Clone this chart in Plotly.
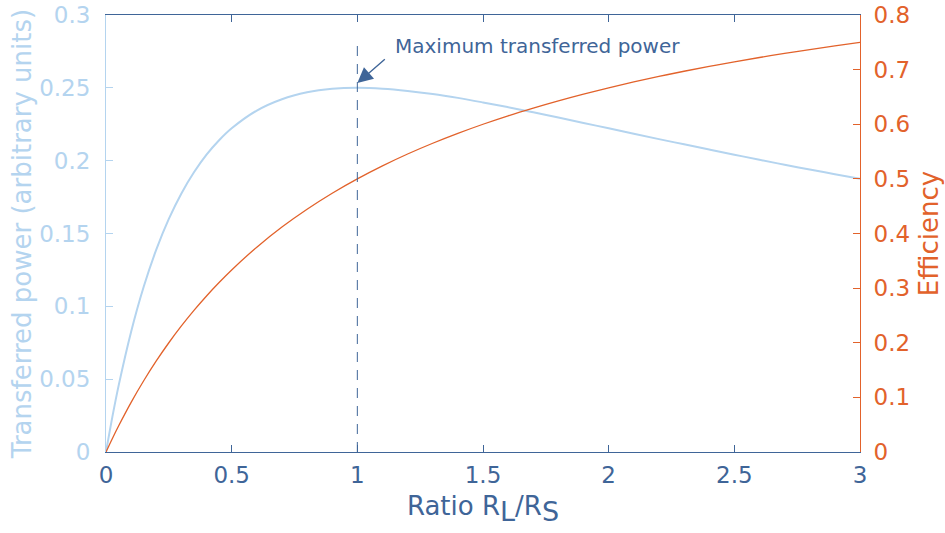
import plotly.graph_objects as go

# Ratio R_L/R_S sample points
ratio = [0, 0.025, 0.05, 0.1, 0.15, 0.2, 0.25, 0.3, 0.35, 0.4, 0.45, 0.5,
         0.6, 0.7, 0.8, 0.9, 1.0, 1.1, 1.2, 1.3, 1.4, 1.5, 1.6, 1.7, 1.8, 1.9,
         2.0, 2.1, 2.2, 2.3, 2.4, 2.5, 2.6, 2.7, 2.8, 2.9, 3.0]
# Transferred power (arbitrary units)
power = [0, 0.0238, 0.0454, 0.0826, 0.1134, 0.1389, 0.16, 0.1775, 0.192, 0.2041, 0.214, 0.2222,
         0.2344, 0.2422, 0.2469, 0.2493, 0.25, 0.2494, 0.2479, 0.2458, 0.2431, 0.24, 0.2367, 0.2332, 0.2296, 0.2259,
         0.2222, 0.2185, 0.2148, 0.2112, 0.2076, 0.2041, 0.2006, 0.1972, 0.1939, 0.1907, 0.1875]
# Efficiency
efficiency = [0, 0.0244, 0.0476, 0.0909, 0.1304, 0.1667, 0.2, 0.2308, 0.2593, 0.2857, 0.3103, 0.3333,
              0.375, 0.4118, 0.4444, 0.4737, 0.5, 0.5238, 0.5455, 0.5652, 0.5833, 0.6, 0.6154, 0.6296, 0.6429, 0.6552,
              0.6667, 0.6774, 0.6875, 0.697, 0.7059, 0.7143, 0.7222, 0.7297, 0.7368, 0.7436, 0.75]

x_ticks = [0, 0.5, 1, 1.5, 2, 2.5, 3]
x_tick_labels = ["0", "0.5", "1", "1.5", "2", "2.5", "3"]
y1_ticks = [0, 0.05, 0.1, 0.15, 0.2, 0.25, 0.3]
y1_tick_labels = ["0", "0.05", "0.1", "0.15", "0.2", "0.25", "0.3"]
y2_ticks = [0, 0.1, 0.2, 0.3, 0.4, 0.5, 0.6, 0.7, 0.8]
y2_tick_labels = ["0", "0.1", "0.2", "0.3", "0.4", "0.5", "0.6", "0.7", "0.8"]

max_ratio = 1.0
max_line_top = 0.2815

DARK = "#3F6598"
LIGHT = "#B4D4EF"
ORANGE = "#E2622B"
FONT = "DejaVu Sans"

fig = go.Figure()
fig.add_trace(go.Scatter(x=ratio, y=power, mode="lines", line=dict(color=LIGHT, width=2, shape="spline"),
                         yaxis="y", showlegend=False, hoverinfo="skip"))
fig.add_trace(go.Scatter(x=ratio, y=efficiency, mode="lines", line=dict(color=ORANGE, width=1.3, shape="spline"),
                         yaxis="y2", showlegend=False, hoverinfo="skip"))

fig.add_shape(type="line", xref="x", yref="y", x0=max_ratio, x1=max_ratio, y0=0, y1=max_line_top,
              line=dict(color=DARK, width=1, dash="10px,8px"))

fig.add_annotation(x=max_ratio, y=0.2533, xref="x", yref="y", text="", showarrow=True,
                   ax=29, ay=-25, arrowhead=2, arrowsize=2.2, arrowwidth=1.4, arrowcolor=DARK)
fig.add_annotation(x=1.14, y=0.2787, xref="x", yref="y", text="Maximum transferred power",
                   showarrow=False, xanchor="left", yanchor="middle",
                   font=dict(family=FONT, size=20, color=DARK))

sub = "<sub><span style='font-size:27px'>{}</span></sub>"
x_title = "Ratio R" + sub.format("L") + "/R" + sub.format("S")

fig.update_layout(
    width=945, height=533,
    margin=dict(l=106, r=85, t=15, b=81),
    paper_bgcolor="white", plot_bgcolor="white",
    font=dict(family=FONT),
    xaxis=dict(range=[0, 3], tickvals=x_ticks, ticktext=x_tick_labels, ticks="inside", ticklen=7,
               tickcolor=DARK, linecolor=DARK, linewidth=1, showline=True, mirror="ticks",
               showgrid=False, zeroline=False, automargin=False, ticklabelstandoff=2,
               ticklabeloverflow="allow",
               tickfont=dict(family=FONT, size=23, color=DARK),
               title=dict(text=x_title, font=dict(family=FONT, size=26, color=DARK), standoff=10)),
    yaxis=dict(range=[0, 0.3], tickvals=y1_ticks, ticktext=y1_tick_labels, ticks="inside", ticklen=7,
               tickcolor=LIGHT, linecolor=LIGHT, linewidth=1, showline=True, showgrid=False, zeroline=False,
               automargin=False, ticklabelstandoff=10, ticklabeloverflow="allow",
               tickfont=dict(family=FONT, size=23, color=LIGHT),
               title=dict(text="Transferred power (arbitrary units)", font=dict(family=FONT, size=26, color=LIGHT),
                          standoff=0)),
    yaxis2=dict(range=[0, 0.8], tickvals=y2_ticks, ticktext=y2_tick_labels, ticks="inside", ticklen=7,
                tickcolor=ORANGE, linecolor=ORANGE, linewidth=1, showline=True, showgrid=False, zeroline=False,
                overlaying="y", side="right", automargin=False, ticklabelstandoff=8, ticklabeloverflow="allow",
                tickfont=dict(family=FONT, size=23, color=ORANGE),
                title=dict(text="Efficiency", font=dict(family=FONT, size=26, color=ORANGE), standoff=10)),
)

fig.write_html("out.html", config={"displayModeBar": False},
               post_script="document.body.style.margin='0';")
